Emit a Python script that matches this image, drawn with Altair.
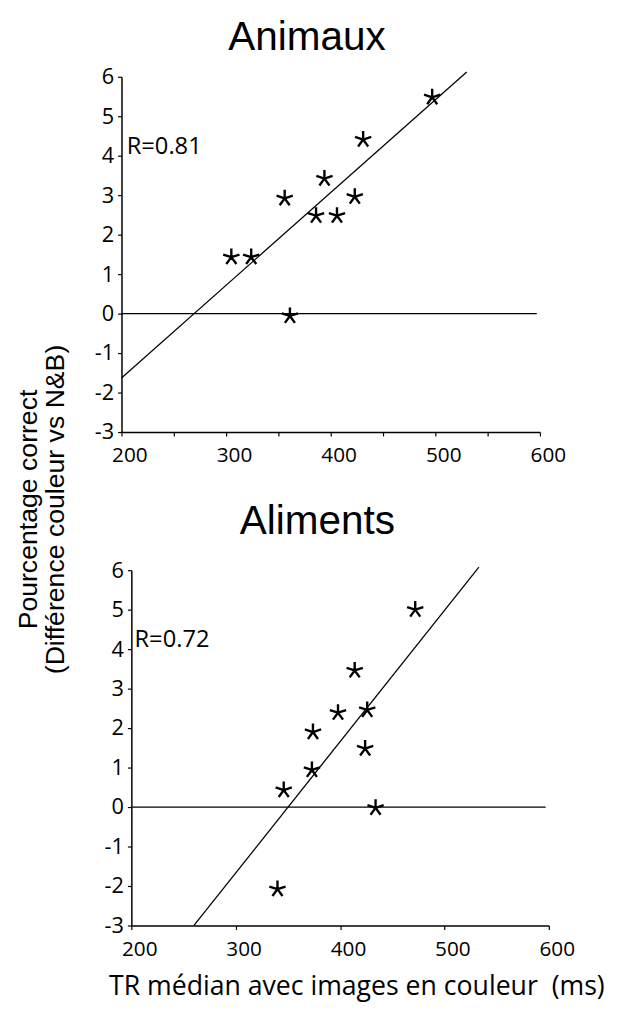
import altair as alt
import pandas as pd

# ---------------- data ----------------
top_title = "Animaux"
bottom_title = "Aliments"

top_x = [305, 324, 356, 361, 386, 394, 406, 423, 431, 497]
top_y = [1.43, 1.43, 2.92, -0.06, 2.48, 3.42, 2.48, 2.96, 4.41, 5.48]

bottom_x = [340, 346, 373, 374, 398, 414, 424, 426, 434, 472]
bottom_y = [-2.08, 0.43, 0.94, 1.90, 2.39, 3.46, 1.48, 2.46, -0.02, 5.00]

top_fit_x = [200, 530]
top_fit_y = [-1.63, 6.12]
bottom_fit_x = [260, 533]
bottom_fit_y = [-3.0, 6.08]

zero_x = [200, 597]

top_r = "R=0.81"
bottom_r = "R=0.72"
r_pos_x = [205, 203]
r_pos_y = [4.23, 4.23]

x_ticks_top = [200, 250, 300, 350, 400, 450, 500, 550, 600]
x_ticks_bottom = [200, 300, 400, 500, 600]
y_ticks = [-3, -2, -1, 0, 1, 2, 3, 4, 5, 6]

y_title = ["Pourcentage correct", "(Différence couleur vs N&B)"]
x_title = "TR médian avec images en couleur\u00a0 (ms)"

STAR = "M0,0L0,-1M0,0L0.951,-0.309M0,0L-0.951,-0.309M0,0L0.588,0.809M0,0L-0.588,0.809"

LABEL_FONT = "Open Sans"
TITLE_FONT = "Liberation Sans"


def panel(px, py, lx, ly, r_text, rx, ry, title, title_offset, title_dx,
          xvalues, xaxis_extra, yaxis_extra, width):
    pts = pd.DataFrame({"x": px, "y": py})
    fit = pd.DataFrame({"x": lx, "y": ly})
    zero = pd.DataFrame({"x": [zero_x[0]], "x2": [zero_x[1]], "y": [0]})
    rdf = pd.DataFrame({"x": [rx], "y": [ry], "t": [r_text]})

    xscale = alt.Scale(domain=[200, 600], nice=False, zero=False)
    yscale = alt.Scale(domain=[-3, 6], nice=False, zero=False)

    xaxis = alt.Axis(
        values=xvalues,
        labelExpr="datum.value % 100 == 0 ? datum.label : ''",
        grid=False, tickSize=4, tickColor="black", tickWidth=1.2,
        domainColor="black", domainWidth=1.5,
        labelFont=LABEL_FONT, labelFontSize=21, labelColor="black",
        labelPadding=9, labelOffset=8, labelFlush=False, labelOverlap=False,
        **xaxis_extra,
    )
    yaxis = alt.Axis(
        values=y_ticks, grid=False, tickSize=4, tickColor="black", tickWidth=1.2,
        domainColor="black", domainWidth=1.5,
        labelExpr="'' + datum.value",
        labelFont=LABEL_FONT, labelFontSize=22, labelColor="black",
        labelPadding=4, labelFlush=False, labelOverlap=False,
        **yaxis_extra,
    )
    xenc = alt.X("x:Q", scale=xscale, axis=xaxis)
    yenc = alt.Y("y:Q", scale=yscale, axis=yaxis)

    stars = alt.Chart(pts).mark_point(
        shape=STAR, size=300, filled=False, stroke="black", strokeWidth=2.4,
        opacity=1,
    ).encode(x=xenc, y=yenc)
    line = alt.Chart(fit).mark_line(color="black", strokeWidth=1.3, clip=False).encode(
        x=xenc, y=yenc)
    rule = alt.Chart(zero).mark_rule(color="black", strokeWidth=1.3).encode(
        x=xenc, x2="x2:Q", y=yenc)
    rtext = alt.Chart(rdf).mark_text(
        align="left", baseline="middle", font=LABEL_FONT, fontSize=24, color="black"
    ).encode(x=xenc, y=yenc, text="t:N")

    return alt.layer(rule, line, stars, rtext).properties(
        width=width, height=360,
        title=alt.TitleParams(
            text=title, font=TITLE_FONT, fontSize=41, fontWeight="normal",
            anchor="middle", frame="group", baseline="alphabetic",
            offset=title_offset, dx=title_dx, dy=50, color="black",
        ),
    )


top = panel(
    top_x, top_y, top_fit_x, top_fit_y, top_r, r_pos_x[0], r_pos_y[0],
    top_title, 25, -24, x_ticks_top,
    dict(title=None),
    dict(title=y_title, titleFont=TITLE_FONT, titleFontSize=27,
         titleFontWeight="normal", titleColor="black", titleX=-86, titleY=438,
         titleAngle=270, titleAlign="center", titleBaseline="alphabetic",
         titleLineHeight=27),
    424,
)

bottom = panel(
    bottom_x, bottom_y, bottom_fit_x, bottom_fit_y, bottom_r, r_pos_x[1], r_pos_y[1],
    bottom_title, 35, -23, x_ticks_bottom,
    dict(title=x_title, titleFont=LABEL_FONT, titleFontSize=27,
         titleFontWeight="normal", titleColor="black", titleX=228, titleY=70,
         titleAlign="center", titleBaseline="alphabetic"),
    dict(title=None),
    423,
)

spacer = alt.Chart(pd.DataFrame({"a": [0]})).mark_point(opacity=0).encode(
    x=alt.value(0), y=alt.value(0)
).properties(width=10, height=10)

bottom_row = alt.hconcat(spacer, bottom, spacing=0, bounds="flush")

chart = alt.vconcat(top, bottom_row, spacing=140, bounds="flush").properties(
    padding={"left": 7, "top": 3, "right": 5, "bottom": 5},
    background="white",
).configure_view(stroke=None)

chart.save("out.html", embed_options={"renderer": "svg", "actions": False})
